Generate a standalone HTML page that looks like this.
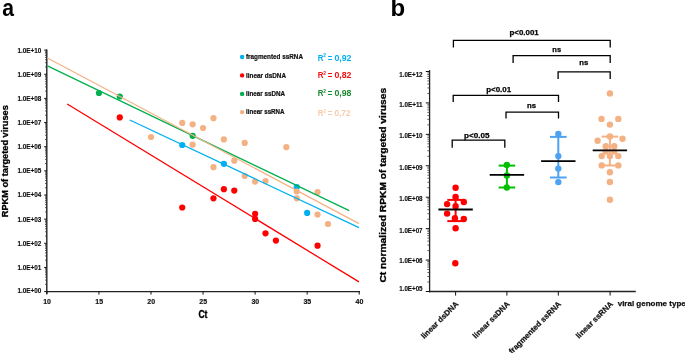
<!DOCTYPE html>
<html><head><meta charset="utf-8"><style>
html,body{margin:0;padding:0;background:#fff;width:685px;height:353px;overflow:hidden}
svg{display:block;will-change:transform}
text{font-family:"Liberation Sans",sans-serif;font-weight:bold}
</style></head><body>
<svg width="685" height="353" viewBox="0 0 685 353">
<rect width="685" height="353" fill="#fff"/>
<text transform="translate(2.3,16) scale(0.88,1)" font-size="24" fill="#000">a</text>
<line x1="46.8" y1="49.5" x2="46.8" y2="293.8" stroke="#222" stroke-width="1.4"/>
<line x1="46.1" y1="291.6" x2="360" y2="291.6" stroke="#222" stroke-width="1.4"/>
<line x1="44.2" y1="291.6" x2="46.8" y2="291.6" stroke="#111" stroke-width="1"/>
<text x="41.2" y="292.79999999999995" font-size="6.6" text-anchor="end" fill="#111" textLength="23.8" lengthAdjust="spacingAndGlyphs" stroke="#111" stroke-width="0.15">1.0E+00</text>
<line x1="45.0" y1="284.33012560471485" x2="46.8" y2="284.33012560471485" stroke="#333" stroke-width="0.8"/>
<line x1="45.0" y1="280.0775216985202" x2="46.8" y2="280.0775216985202" stroke="#333" stroke-width="0.8"/>
<line x1="45.0" y1="277.06025120942974" x2="46.8" y2="277.06025120942974" stroke="#333" stroke-width="0.8"/>
<line x1="45.0" y1="274.71987439528516" x2="46.8" y2="274.71987439528516" stroke="#333" stroke-width="0.8"/>
<line x1="45.0" y1="272.80764730323506" x2="46.8" y2="272.80764730323506" stroke="#333" stroke-width="0.8"/>
<line x1="45.0" y1="271.19088233365574" x2="46.8" y2="271.19088233365574" stroke="#333" stroke-width="0.8"/>
<line x1="45.0" y1="269.79037681414457" x2="46.8" y2="269.79037681414457" stroke="#333" stroke-width="0.8"/>
<line x1="45.0" y1="268.5550433970403" x2="46.8" y2="268.5550433970403" stroke="#333" stroke-width="0.8"/>
<line x1="44.2" y1="267.45000000000005" x2="46.8" y2="267.45000000000005" stroke="#111" stroke-width="1"/>
<text x="41.2" y="269.9" font-size="6.6" text-anchor="end" fill="#111" textLength="23.8" lengthAdjust="spacingAndGlyphs" stroke="#111" stroke-width="0.15">1.0E+01</text>
<line x1="45.0" y1="260.1801256047149" x2="46.8" y2="260.1801256047149" stroke="#333" stroke-width="0.8"/>
<line x1="45.0" y1="255.9275216985202" x2="46.8" y2="255.9275216985202" stroke="#333" stroke-width="0.8"/>
<line x1="45.0" y1="252.91025120942976" x2="46.8" y2="252.91025120942976" stroke="#333" stroke-width="0.8"/>
<line x1="45.0" y1="250.56987439528518" x2="46.8" y2="250.56987439528518" stroke="#333" stroke-width="0.8"/>
<line x1="45.0" y1="248.65764730323505" x2="46.8" y2="248.65764730323505" stroke="#333" stroke-width="0.8"/>
<line x1="45.0" y1="247.04088233365576" x2="46.8" y2="247.04088233365576" stroke="#333" stroke-width="0.8"/>
<line x1="45.0" y1="245.64037681414462" x2="46.8" y2="245.64037681414462" stroke="#333" stroke-width="0.8"/>
<line x1="45.0" y1="244.40504339704034" x2="46.8" y2="244.40504339704034" stroke="#333" stroke-width="0.8"/>
<line x1="44.2" y1="243.3" x2="46.8" y2="243.3" stroke="#111" stroke-width="1"/>
<text x="41.2" y="245.5" font-size="6.6" text-anchor="end" fill="#111" textLength="23.8" lengthAdjust="spacingAndGlyphs" stroke="#111" stroke-width="0.15">1.0E+02</text>
<line x1="45.0" y1="236.03012560471487" x2="46.8" y2="236.03012560471487" stroke="#333" stroke-width="0.8"/>
<line x1="45.0" y1="231.77752169852016" x2="46.8" y2="231.77752169852016" stroke="#333" stroke-width="0.8"/>
<line x1="45.0" y1="228.76025120942973" x2="46.8" y2="228.76025120942973" stroke="#333" stroke-width="0.8"/>
<line x1="45.0" y1="226.41987439528515" x2="46.8" y2="226.41987439528515" stroke="#333" stroke-width="0.8"/>
<line x1="45.0" y1="224.50764730323502" x2="46.8" y2="224.50764730323502" stroke="#333" stroke-width="0.8"/>
<line x1="45.0" y1="222.89088233365572" x2="46.8" y2="222.89088233365572" stroke="#333" stroke-width="0.8"/>
<line x1="45.0" y1="221.49037681414458" x2="46.8" y2="221.49037681414458" stroke="#333" stroke-width="0.8"/>
<line x1="45.0" y1="220.2550433970403" x2="46.8" y2="220.2550433970403" stroke="#333" stroke-width="0.8"/>
<line x1="44.2" y1="219.15000000000003" x2="46.8" y2="219.15000000000003" stroke="#111" stroke-width="1"/>
<text x="41.2" y="222.0" font-size="6.6" text-anchor="end" fill="#111" textLength="23.8" lengthAdjust="spacingAndGlyphs" stroke="#111" stroke-width="0.15">1.0E+03</text>
<line x1="45.0" y1="211.8801256047149" x2="46.8" y2="211.8801256047149" stroke="#333" stroke-width="0.8"/>
<line x1="45.0" y1="207.62752169852018" x2="46.8" y2="207.62752169852018" stroke="#333" stroke-width="0.8"/>
<line x1="45.0" y1="204.61025120942975" x2="46.8" y2="204.61025120942975" stroke="#333" stroke-width="0.8"/>
<line x1="45.0" y1="202.26987439528517" x2="46.8" y2="202.26987439528517" stroke="#333" stroke-width="0.8"/>
<line x1="45.0" y1="200.35764730323504" x2="46.8" y2="200.35764730323504" stroke="#333" stroke-width="0.8"/>
<line x1="45.0" y1="198.74088233365575" x2="46.8" y2="198.74088233365575" stroke="#333" stroke-width="0.8"/>
<line x1="45.0" y1="197.3403768141446" x2="46.8" y2="197.3403768141446" stroke="#333" stroke-width="0.8"/>
<line x1="45.0" y1="196.10504339704033" x2="46.8" y2="196.10504339704033" stroke="#333" stroke-width="0.8"/>
<line x1="44.2" y1="195.00000000000003" x2="46.8" y2="195.00000000000003" stroke="#111" stroke-width="1"/>
<text x="41.2" y="197.1" font-size="6.6" text-anchor="end" fill="#111" textLength="23.8" lengthAdjust="spacingAndGlyphs" stroke="#111" stroke-width="0.15">1.0E+04</text>
<line x1="45.0" y1="187.73012560471489" x2="46.8" y2="187.73012560471489" stroke="#333" stroke-width="0.8"/>
<line x1="45.0" y1="183.47752169852018" x2="46.8" y2="183.47752169852018" stroke="#333" stroke-width="0.8"/>
<line x1="45.0" y1="180.46025120942974" x2="46.8" y2="180.46025120942974" stroke="#333" stroke-width="0.8"/>
<line x1="45.0" y1="178.11987439528517" x2="46.8" y2="178.11987439528517" stroke="#333" stroke-width="0.8"/>
<line x1="45.0" y1="176.20764730323503" x2="46.8" y2="176.20764730323503" stroke="#333" stroke-width="0.8"/>
<line x1="45.0" y1="174.5908823336557" x2="46.8" y2="174.5908823336557" stroke="#333" stroke-width="0.8"/>
<line x1="45.0" y1="173.1903768141446" x2="46.8" y2="173.1903768141446" stroke="#333" stroke-width="0.8"/>
<line x1="45.0" y1="171.95504339704033" x2="46.8" y2="171.95504339704033" stroke="#333" stroke-width="0.8"/>
<line x1="44.2" y1="170.85000000000002" x2="46.8" y2="170.85000000000002" stroke="#111" stroke-width="1"/>
<text x="41.2" y="173.4" font-size="6.6" text-anchor="end" fill="#111" textLength="23.8" lengthAdjust="spacingAndGlyphs" stroke="#111" stroke-width="0.15">1.0E+05</text>
<line x1="45.0" y1="163.58012560471488" x2="46.8" y2="163.58012560471488" stroke="#333" stroke-width="0.8"/>
<line x1="45.0" y1="159.32752169852017" x2="46.8" y2="159.32752169852017" stroke="#333" stroke-width="0.8"/>
<line x1="45.0" y1="156.31025120942974" x2="46.8" y2="156.31025120942974" stroke="#333" stroke-width="0.8"/>
<line x1="45.0" y1="153.96987439528516" x2="46.8" y2="153.96987439528516" stroke="#333" stroke-width="0.8"/>
<line x1="45.0" y1="152.05764730323503" x2="46.8" y2="152.05764730323503" stroke="#333" stroke-width="0.8"/>
<line x1="45.0" y1="150.44088233365574" x2="46.8" y2="150.44088233365574" stroke="#333" stroke-width="0.8"/>
<line x1="45.0" y1="149.0403768141446" x2="46.8" y2="149.0403768141446" stroke="#333" stroke-width="0.8"/>
<line x1="45.0" y1="147.80504339704032" x2="46.8" y2="147.80504339704032" stroke="#333" stroke-width="0.8"/>
<line x1="44.2" y1="146.70000000000005" x2="46.8" y2="146.70000000000005" stroke="#111" stroke-width="1"/>
<text x="41.2" y="148.70000000000002" font-size="6.6" text-anchor="end" fill="#111" textLength="23.8" lengthAdjust="spacingAndGlyphs" stroke="#111" stroke-width="0.15">1.0E+06</text>
<line x1="45.0" y1="139.4301256047149" x2="46.8" y2="139.4301256047149" stroke="#333" stroke-width="0.8"/>
<line x1="45.0" y1="135.1775216985202" x2="46.8" y2="135.1775216985202" stroke="#333" stroke-width="0.8"/>
<line x1="45.0" y1="132.16025120942976" x2="46.8" y2="132.16025120942976" stroke="#333" stroke-width="0.8"/>
<line x1="45.0" y1="129.81987439528518" x2="46.8" y2="129.81987439528518" stroke="#333" stroke-width="0.8"/>
<line x1="45.0" y1="127.90764730323505" x2="46.8" y2="127.90764730323505" stroke="#333" stroke-width="0.8"/>
<line x1="45.0" y1="126.29088233365574" x2="46.8" y2="126.29088233365574" stroke="#333" stroke-width="0.8"/>
<line x1="45.0" y1="124.89037681414462" x2="46.8" y2="124.89037681414462" stroke="#333" stroke-width="0.8"/>
<line x1="45.0" y1="123.65504339704034" x2="46.8" y2="123.65504339704034" stroke="#333" stroke-width="0.8"/>
<line x1="44.2" y1="122.55000000000004" x2="46.8" y2="122.55000000000004" stroke="#111" stroke-width="1"/>
<text x="41.2" y="124.7" font-size="6.6" text-anchor="end" fill="#111" textLength="23.8" lengthAdjust="spacingAndGlyphs" stroke="#111" stroke-width="0.15">1.0E+07</text>
<line x1="45.0" y1="115.2801256047149" x2="46.8" y2="115.2801256047149" stroke="#333" stroke-width="0.8"/>
<line x1="45.0" y1="111.02752169852019" x2="46.8" y2="111.02752169852019" stroke="#333" stroke-width="0.8"/>
<line x1="45.0" y1="108.01025120942975" x2="46.8" y2="108.01025120942975" stroke="#333" stroke-width="0.8"/>
<line x1="45.0" y1="105.66987439528518" x2="46.8" y2="105.66987439528518" stroke="#333" stroke-width="0.8"/>
<line x1="45.0" y1="103.75764730323505" x2="46.8" y2="103.75764730323505" stroke="#333" stroke-width="0.8"/>
<line x1="45.0" y1="102.14088233365574" x2="46.8" y2="102.14088233365574" stroke="#333" stroke-width="0.8"/>
<line x1="45.0" y1="100.74037681414461" x2="46.8" y2="100.74037681414461" stroke="#333" stroke-width="0.8"/>
<line x1="45.0" y1="99.50504339704034" x2="46.8" y2="99.50504339704034" stroke="#333" stroke-width="0.8"/>
<line x1="44.2" y1="98.40000000000003" x2="46.8" y2="98.40000000000003" stroke="#111" stroke-width="1"/>
<text x="41.2" y="100.60000000000001" font-size="6.6" text-anchor="end" fill="#111" textLength="23.8" lengthAdjust="spacingAndGlyphs" stroke="#111" stroke-width="0.15">1.0E+08</text>
<line x1="45.0" y1="91.13012560471489" x2="46.8" y2="91.13012560471489" stroke="#333" stroke-width="0.8"/>
<line x1="45.0" y1="86.87752169852018" x2="46.8" y2="86.87752169852018" stroke="#333" stroke-width="0.8"/>
<line x1="45.0" y1="83.86025120942975" x2="46.8" y2="83.86025120942975" stroke="#333" stroke-width="0.8"/>
<line x1="45.0" y1="81.51987439528517" x2="46.8" y2="81.51987439528517" stroke="#333" stroke-width="0.8"/>
<line x1="45.0" y1="79.60764730323504" x2="46.8" y2="79.60764730323504" stroke="#333" stroke-width="0.8"/>
<line x1="45.0" y1="77.99088233365573" x2="46.8" y2="77.99088233365573" stroke="#333" stroke-width="0.8"/>
<line x1="45.0" y1="76.5903768141446" x2="46.8" y2="76.5903768141446" stroke="#333" stroke-width="0.8"/>
<line x1="45.0" y1="75.35504339704033" x2="46.8" y2="75.35504339704033" stroke="#333" stroke-width="0.8"/>
<line x1="44.2" y1="74.25000000000003" x2="46.8" y2="74.25000000000003" stroke="#111" stroke-width="1"/>
<text x="41.2" y="76.5" font-size="6.6" text-anchor="end" fill="#111" textLength="23.8" lengthAdjust="spacingAndGlyphs" stroke="#111" stroke-width="0.15">1.0E+09</text>
<line x1="45.0" y1="66.98012560471489" x2="46.8" y2="66.98012560471489" stroke="#333" stroke-width="0.8"/>
<line x1="45.0" y1="62.72752169852018" x2="46.8" y2="62.72752169852018" stroke="#333" stroke-width="0.8"/>
<line x1="45.0" y1="59.710251209429735" x2="46.8" y2="59.710251209429735" stroke="#333" stroke-width="0.8"/>
<line x1="45.0" y1="57.36987439528517" x2="46.8" y2="57.36987439528517" stroke="#333" stroke-width="0.8"/>
<line x1="45.0" y1="55.457647303235035" x2="46.8" y2="55.457647303235035" stroke="#333" stroke-width="0.8"/>
<line x1="45.0" y1="53.84088233365573" x2="46.8" y2="53.84088233365573" stroke="#333" stroke-width="0.8"/>
<line x1="45.0" y1="52.44037681414459" x2="46.8" y2="52.44037681414459" stroke="#333" stroke-width="0.8"/>
<line x1="45.0" y1="51.205043397040335" x2="46.8" y2="51.205043397040335" stroke="#333" stroke-width="0.8"/>
<line x1="44.2" y1="50.10000000000002" x2="46.8" y2="50.10000000000002" stroke="#111" stroke-width="1"/>
<text x="41.2" y="52.6" font-size="6.6" text-anchor="end" fill="#111" textLength="23.8" lengthAdjust="spacingAndGlyphs" stroke="#111" stroke-width="0.15">1.0E+10</text>
<line x1="46.9" y1="291.6" x2="46.9" y2="294.6" stroke="#111" stroke-width="1"/>
<text x="47.1" y="303.8" font-size="6.6" text-anchor="middle" fill="#111" textLength="7.8" lengthAdjust="spacingAndGlyphs" stroke="#111" stroke-width="0.15">10</text>
<line x1="98.94999999999999" y1="291.6" x2="98.94999999999999" y2="294.6" stroke="#111" stroke-width="1"/>
<text x="99.14999999999999" y="303.8" font-size="6.6" text-anchor="middle" fill="#111" textLength="7.8" lengthAdjust="spacingAndGlyphs" stroke="#111" stroke-width="0.15">15</text>
<line x1="151.0" y1="291.6" x2="151.0" y2="294.6" stroke="#111" stroke-width="1"/>
<text x="151.2" y="303.8" font-size="6.6" text-anchor="middle" fill="#111" textLength="7.8" lengthAdjust="spacingAndGlyphs" stroke="#111" stroke-width="0.15">20</text>
<line x1="203.05" y1="291.6" x2="203.05" y2="294.6" stroke="#111" stroke-width="1"/>
<text x="203.25" y="303.8" font-size="6.6" text-anchor="middle" fill="#111" textLength="7.8" lengthAdjust="spacingAndGlyphs" stroke="#111" stroke-width="0.15">25</text>
<line x1="255.1" y1="291.6" x2="255.1" y2="294.6" stroke="#111" stroke-width="1"/>
<text x="255.29999999999998" y="303.8" font-size="6.6" text-anchor="middle" fill="#111" textLength="7.8" lengthAdjust="spacingAndGlyphs" stroke="#111" stroke-width="0.15">30</text>
<line x1="307.15" y1="291.6" x2="307.15" y2="294.6" stroke="#111" stroke-width="1"/>
<text x="307.34999999999997" y="303.8" font-size="6.6" text-anchor="middle" fill="#111" textLength="7.8" lengthAdjust="spacingAndGlyphs" stroke="#111" stroke-width="0.15">35</text>
<line x1="359.2" y1="291.6" x2="359.2" y2="294.6" stroke="#111" stroke-width="1"/>
<text x="359.4" y="303.8" font-size="6.6" text-anchor="middle" fill="#111" textLength="7.8" lengthAdjust="spacingAndGlyphs" stroke="#111" stroke-width="0.15">40</text>
<text x="202.9" y="317.5" font-size="10" text-anchor="middle" fill="#000" textLength="9" lengthAdjust="spacingAndGlyphs" stroke="#000" stroke-width="0.35">Ct</text>
<text transform="translate(7.8,161.2) rotate(-90)" x="0" y="0" font-size="9.6" text-anchor="middle" fill="#000" stroke="#000" stroke-width="0.3" textLength="112" lengthAdjust="spacingAndGlyphs">RPKM of targeted viruses</text>
<circle cx="182.23000000000002" cy="145" r="3.1" fill="#00B0F0"/>
<circle cx="223.87" cy="163.8" r="3.1" fill="#00B0F0"/>
<circle cx="296.74" cy="187.2" r="3.1" fill="#00B0F0"/>
<circle cx="307.15" cy="212.9" r="3.1" fill="#00B0F0"/>
<circle cx="119.77000000000001" cy="117.4" r="3.1" fill="#FF0000"/>
<circle cx="182.23000000000002" cy="207.5" r="3.1" fill="#FF0000"/>
<circle cx="213.46" cy="198.3" r="3.1" fill="#FF0000"/>
<circle cx="223.87" cy="189.2" r="3.1" fill="#FF0000"/>
<circle cx="234.28" cy="190.6" r="3.1" fill="#FF0000"/>
<circle cx="255.1" cy="213.8" r="3.1" fill="#FF0000"/>
<circle cx="255.1" cy="218.9" r="3.1" fill="#FF0000"/>
<circle cx="265.51" cy="233.3" r="3.1" fill="#FF0000"/>
<circle cx="275.92" cy="240.6" r="3.1" fill="#FF0000"/>
<circle cx="317.56" cy="245.7" r="3.1" fill="#FF0000"/>
<circle cx="98.94999999999999" cy="93" r="3.1" fill="#00B050"/>
<circle cx="119.77000000000001" cy="96.5" r="3.1" fill="#00B050"/>
<circle cx="192.64000000000001" cy="135.8" r="3.1" fill="#00B050"/>
<circle cx="151.0" cy="137" r="3.1" fill="#F4B183"/>
<circle cx="182.23000000000002" cy="122.9" r="3.1" fill="#F4B183"/>
<circle cx="192.64000000000001" cy="124.3" r="3.1" fill="#F4B183"/>
<circle cx="203.05" cy="128" r="3.1" fill="#F4B183"/>
<circle cx="192.64000000000001" cy="144.7" r="3.1" fill="#F4B183"/>
<circle cx="213.46" cy="118.2" r="3.1" fill="#F4B183"/>
<circle cx="213.46" cy="167.2" r="3.1" fill="#F4B183"/>
<circle cx="223.87" cy="139.4" r="3.1" fill="#F4B183"/>
<circle cx="234.28" cy="160.7" r="3.1" fill="#F4B183"/>
<circle cx="244.69" cy="142.9" r="3.1" fill="#F4B183"/>
<circle cx="244.69" cy="176" r="3.1" fill="#F4B183"/>
<circle cx="255.1" cy="181.6" r="3.1" fill="#F4B183"/>
<circle cx="265.51" cy="181.1" r="3.1" fill="#F4B183"/>
<circle cx="286.33" cy="147.2" r="3.1" fill="#F4B183"/>
<circle cx="296.74" cy="191.5" r="3.1" fill="#F4B183"/>
<circle cx="296.74" cy="198.3" r="3.1" fill="#F4B183"/>
<circle cx="317.56" cy="192.1" r="3.1" fill="#F4B183"/>
<circle cx="317.56" cy="214.6" r="3.1" fill="#F4B183"/>
<circle cx="327.96999999999997" cy="224" r="3.1" fill="#F4B183"/>
<line x1="67.2" y1="104" x2="359" y2="281.9" stroke="#FF0000" stroke-width="1.3"/>
<line x1="129.7" y1="120" x2="359" y2="227.7" stroke="#00B0F0" stroke-width="1.3"/>
<line x1="47.4" y1="65.8" x2="349.2" y2="210.7" stroke="#00B050" stroke-width="1.3"/>
<line x1="47.4" y1="58" x2="359" y2="223.6" stroke="#F4B183" stroke-width="1.2"/>
<circle cx="242.1" cy="57" r="2.2" fill="#00B0F0"/>
<text x="246" y="58.7" font-size="6.3" text-anchor="start" fill="#111" textLength="57" lengthAdjust="spacingAndGlyphs" stroke="#111" stroke-width="0.2">fragmented ssRNA</text>
<circle cx="242.1" cy="75.4" r="2.2" fill="#FF0000"/>
<text x="246" y="77.6" font-size="6.3" text-anchor="start" fill="#111" textLength="40" lengthAdjust="spacingAndGlyphs" stroke="#111" stroke-width="0.2">linear dsDNA</text>
<circle cx="242.1" cy="93.9" r="2.2" fill="#00B050"/>
<text x="246" y="96" font-size="6.3" text-anchor="start" fill="#111" textLength="39" lengthAdjust="spacingAndGlyphs" stroke="#111" stroke-width="0.2">linear ssDNA</text>
<circle cx="242.1" cy="112.1" r="2.2" fill="#F4B183"/>
<text x="246" y="114.1" font-size="6.3" text-anchor="start" fill="#111" textLength="38.5" lengthAdjust="spacingAndGlyphs" stroke="#111" stroke-width="0.2">linear ssRNA</text>
<text x="317.7" y="60.8" font-size="8.4" text-anchor="start" fill="#00B0F0" textLength="5.7" lengthAdjust="spacingAndGlyphs" >R</text>
<text x="323.3" y="57.4" font-size="4.9" text-anchor="start" fill="#00B0F0" >2</text>
<text x="330.0" y="60.8" font-size="8.4" text-anchor="middle" fill="#00B0F0" textLength="4.6" lengthAdjust="spacingAndGlyphs" >=</text>
<text x="334.4" y="60.8" font-size="8.4" text-anchor="start" fill="#00B0F0" textLength="17.1" lengthAdjust="spacingAndGlyphs" >0,92</text>
<text x="317.7" y="77.9" font-size="8.4" text-anchor="start" fill="#EE1111" textLength="5.7" lengthAdjust="spacingAndGlyphs" >R</text>
<text x="323.3" y="74.5" font-size="4.9" text-anchor="start" fill="#EE1111" >2</text>
<text x="330.0" y="77.9" font-size="8.4" text-anchor="middle" fill="#EE1111" textLength="4.6" lengthAdjust="spacingAndGlyphs" >=</text>
<text x="334.4" y="77.9" font-size="8.4" text-anchor="start" fill="#EE1111" textLength="17.1" lengthAdjust="spacingAndGlyphs" >0,82</text>
<text x="317.7" y="96.4" font-size="8.4" text-anchor="start" fill="#1A8A32" textLength="5.7" lengthAdjust="spacingAndGlyphs" >R</text>
<text x="323.3" y="93.0" font-size="4.9" text-anchor="start" fill="#1A8A32" >2</text>
<text x="330.0" y="96.4" font-size="8.4" text-anchor="middle" fill="#1A8A32" textLength="4.6" lengthAdjust="spacingAndGlyphs" >=</text>
<text x="334.4" y="96.4" font-size="8.4" text-anchor="start" fill="#1A8A32" textLength="17.1" lengthAdjust="spacingAndGlyphs" >0,98</text>
<text x="317.7" y="116.1" font-size="8.4" text-anchor="start" fill="#F8CBAD" textLength="5.7" lengthAdjust="spacingAndGlyphs" >R</text>
<text x="323.3" y="112.69999999999999" font-size="4.9" text-anchor="start" fill="#F8CBAD" >2</text>
<text x="330.0" y="116.1" font-size="8.4" text-anchor="middle" fill="#F8CBAD" textLength="4.6" lengthAdjust="spacingAndGlyphs" >=</text>
<text x="334.4" y="116.1" font-size="8.4" text-anchor="start" fill="#F8CBAD" textLength="16.1" lengthAdjust="spacingAndGlyphs" >0,72</text>
<text x="390.6" y="15.5" font-size="24" text-anchor="start" fill="#000" >b</text>
<line x1="429.6" y1="70.1" x2="429.6" y2="292.2" stroke="#222" stroke-width="1.3"/>
<line x1="429.0" y1="291.5" x2="635.8" y2="291.5" stroke="#222" stroke-width="1.3"/>
<line x1="425.8" y1="291.5" x2="429.6" y2="291.5" stroke="#111" stroke-width="1"/>
<text x="422.6" y="291.29999999999995" font-size="6.6" text-anchor="end" fill="#111" textLength="23.4" lengthAdjust="spacingAndGlyphs" stroke="#111" stroke-width="0.15">1.0E+05</text>
<line x1="427.4" y1="282.03862723628106" x2="429.6" y2="282.03862723628106" stroke="#333" stroke-width="0.8"/>
<line x1="427.4" y1="276.504078964161" x2="429.6" y2="276.504078964161" stroke="#333" stroke-width="0.8"/>
<line x1="427.4" y1="272.5772544725621" x2="429.6" y2="272.5772544725621" stroke="#333" stroke-width="0.8"/>
<line x1="427.4" y1="269.53137276371893" x2="429.6" y2="269.53137276371893" stroke="#333" stroke-width="0.8"/>
<line x1="427.4" y1="267.04270620044207" x2="429.6" y2="267.04270620044207" stroke="#333" stroke-width="0.8"/>
<line x1="427.4" y1="264.9385686023519" x2="429.6" y2="264.9385686023519" stroke="#333" stroke-width="0.8"/>
<line x1="427.4" y1="263.11588170884323" x2="429.6" y2="263.11588170884323" stroke="#333" stroke-width="0.8"/>
<line x1="427.4" y1="261.508157928322" x2="429.6" y2="261.508157928322" stroke="#333" stroke-width="0.8"/>
<line x1="425.8" y1="260.07" x2="429.6" y2="260.07" stroke="#111" stroke-width="1"/>
<text x="422.6" y="263.29999999999995" font-size="6.6" text-anchor="end" fill="#111" textLength="23.4" lengthAdjust="spacingAndGlyphs" stroke="#111" stroke-width="0.15">1.0E+06</text>
<line x1="427.4" y1="250.60862723628105" x2="429.6" y2="250.60862723628105" stroke="#333" stroke-width="0.8"/>
<line x1="427.4" y1="245.074078964161" x2="429.6" y2="245.074078964161" stroke="#333" stroke-width="0.8"/>
<line x1="427.4" y1="241.14725447256214" x2="429.6" y2="241.14725447256214" stroke="#333" stroke-width="0.8"/>
<line x1="427.4" y1="238.10137276371893" x2="429.6" y2="238.10137276371893" stroke="#333" stroke-width="0.8"/>
<line x1="427.4" y1="235.61270620044206" x2="429.6" y2="235.61270620044206" stroke="#333" stroke-width="0.8"/>
<line x1="427.4" y1="233.5085686023519" x2="429.6" y2="233.5085686023519" stroke="#333" stroke-width="0.8"/>
<line x1="427.4" y1="231.6858817088432" x2="429.6" y2="231.6858817088432" stroke="#333" stroke-width="0.8"/>
<line x1="427.4" y1="230.078157928322" x2="429.6" y2="230.078157928322" stroke="#333" stroke-width="0.8"/>
<line x1="425.8" y1="228.64" x2="429.6" y2="228.64" stroke="#111" stroke-width="1"/>
<text x="422.6" y="233.3" font-size="6.6" text-anchor="end" fill="#111" textLength="23.4" lengthAdjust="spacingAndGlyphs" stroke="#111" stroke-width="0.15">1.0E+07</text>
<line x1="427.4" y1="219.17862723628105" x2="429.6" y2="219.17862723628105" stroke="#333" stroke-width="0.8"/>
<line x1="427.4" y1="213.644078964161" x2="429.6" y2="213.644078964161" stroke="#333" stroke-width="0.8"/>
<line x1="427.4" y1="209.71725447256213" x2="429.6" y2="209.71725447256213" stroke="#333" stroke-width="0.8"/>
<line x1="427.4" y1="206.67137276371892" x2="429.6" y2="206.67137276371892" stroke="#333" stroke-width="0.8"/>
<line x1="427.4" y1="204.18270620044206" x2="429.6" y2="204.18270620044206" stroke="#333" stroke-width="0.8"/>
<line x1="427.4" y1="202.07856860235188" x2="429.6" y2="202.07856860235188" stroke="#333" stroke-width="0.8"/>
<line x1="427.4" y1="200.2558817088432" x2="429.6" y2="200.2558817088432" stroke="#333" stroke-width="0.8"/>
<line x1="427.4" y1="198.648157928322" x2="429.6" y2="198.648157928322" stroke="#333" stroke-width="0.8"/>
<line x1="425.8" y1="197.21" x2="429.6" y2="197.21" stroke="#111" stroke-width="1"/>
<text x="422.6" y="201.0" font-size="6.6" text-anchor="end" fill="#111" textLength="23.4" lengthAdjust="spacingAndGlyphs" stroke="#111" stroke-width="0.15">1.0E+08</text>
<line x1="427.4" y1="187.74862723628107" x2="429.6" y2="187.74862723628107" stroke="#333" stroke-width="0.8"/>
<line x1="427.4" y1="182.21407896416102" x2="429.6" y2="182.21407896416102" stroke="#333" stroke-width="0.8"/>
<line x1="427.4" y1="178.28725447256215" x2="429.6" y2="178.28725447256215" stroke="#333" stroke-width="0.8"/>
<line x1="427.4" y1="175.24137276371894" x2="429.6" y2="175.24137276371894" stroke="#333" stroke-width="0.8"/>
<line x1="427.4" y1="172.75270620044208" x2="429.6" y2="172.75270620044208" stroke="#333" stroke-width="0.8"/>
<line x1="427.4" y1="170.64856860235193" x2="429.6" y2="170.64856860235193" stroke="#333" stroke-width="0.8"/>
<line x1="427.4" y1="168.8258817088432" x2="429.6" y2="168.8258817088432" stroke="#333" stroke-width="0.8"/>
<line x1="427.4" y1="167.21815792832203" x2="429.6" y2="167.21815792832203" stroke="#333" stroke-width="0.8"/>
<line x1="425.8" y1="165.78" x2="429.6" y2="165.78" stroke="#111" stroke-width="1"/>
<text x="422.6" y="170.1" font-size="6.6" text-anchor="end" fill="#111" textLength="23.4" lengthAdjust="spacingAndGlyphs" stroke="#111" stroke-width="0.15">1.0E+09</text>
<line x1="427.4" y1="156.31862723628106" x2="429.6" y2="156.31862723628106" stroke="#333" stroke-width="0.8"/>
<line x1="427.4" y1="150.784078964161" x2="429.6" y2="150.784078964161" stroke="#333" stroke-width="0.8"/>
<line x1="427.4" y1="146.85725447256215" x2="429.6" y2="146.85725447256215" stroke="#333" stroke-width="0.8"/>
<line x1="427.4" y1="143.81137276371894" x2="429.6" y2="143.81137276371894" stroke="#333" stroke-width="0.8"/>
<line x1="427.4" y1="141.32270620044207" x2="429.6" y2="141.32270620044207" stroke="#333" stroke-width="0.8"/>
<line x1="427.4" y1="139.21856860235192" x2="429.6" y2="139.21856860235192" stroke="#333" stroke-width="0.8"/>
<line x1="427.4" y1="137.3958817088432" x2="429.6" y2="137.3958817088432" stroke="#333" stroke-width="0.8"/>
<line x1="427.4" y1="135.78815792832202" x2="429.6" y2="135.78815792832202" stroke="#333" stroke-width="0.8"/>
<line x1="425.8" y1="134.35" x2="429.6" y2="134.35" stroke="#111" stroke-width="1"/>
<text x="422.6" y="137.9" font-size="6.6" text-anchor="end" fill="#111" textLength="23.4" lengthAdjust="spacingAndGlyphs" stroke="#111" stroke-width="0.15">1.0E+10</text>
<line x1="427.4" y1="124.88862723628107" x2="429.6" y2="124.88862723628107" stroke="#333" stroke-width="0.8"/>
<line x1="427.4" y1="119.354078964161" x2="429.6" y2="119.354078964161" stroke="#333" stroke-width="0.8"/>
<line x1="427.4" y1="115.42725447256214" x2="429.6" y2="115.42725447256214" stroke="#333" stroke-width="0.8"/>
<line x1="427.4" y1="112.38137276371893" x2="429.6" y2="112.38137276371893" stroke="#333" stroke-width="0.8"/>
<line x1="427.4" y1="109.89270620044208" x2="429.6" y2="109.89270620044208" stroke="#333" stroke-width="0.8"/>
<line x1="427.4" y1="107.7885686023519" x2="429.6" y2="107.7885686023519" stroke="#333" stroke-width="0.8"/>
<line x1="427.4" y1="105.96588170884321" x2="429.6" y2="105.96588170884321" stroke="#333" stroke-width="0.8"/>
<line x1="427.4" y1="104.35815792832202" x2="429.6" y2="104.35815792832202" stroke="#333" stroke-width="0.8"/>
<line x1="425.8" y1="102.92000000000002" x2="429.6" y2="102.92000000000002" stroke="#111" stroke-width="1"/>
<text x="422.6" y="107.2" font-size="6.6" text-anchor="end" fill="#111" textLength="23.4" lengthAdjust="spacingAndGlyphs" stroke="#111" stroke-width="0.15">1.0E+11</text>
<line x1="427.4" y1="93.45862723628109" x2="429.6" y2="93.45862723628109" stroke="#333" stroke-width="0.8"/>
<line x1="427.4" y1="87.92407896416103" x2="429.6" y2="87.92407896416103" stroke="#333" stroke-width="0.8"/>
<line x1="427.4" y1="83.99725447256216" x2="429.6" y2="83.99725447256216" stroke="#333" stroke-width="0.8"/>
<line x1="427.4" y1="80.95137276371895" x2="429.6" y2="80.95137276371895" stroke="#333" stroke-width="0.8"/>
<line x1="427.4" y1="78.4627062004421" x2="429.6" y2="78.4627062004421" stroke="#333" stroke-width="0.8"/>
<line x1="427.4" y1="76.35856860235192" x2="429.6" y2="76.35856860235192" stroke="#333" stroke-width="0.8"/>
<line x1="427.4" y1="74.53588170884323" x2="429.6" y2="74.53588170884323" stroke="#333" stroke-width="0.8"/>
<line x1="427.4" y1="72.92815792832204" x2="429.6" y2="72.92815792832204" stroke="#333" stroke-width="0.8"/>
<line x1="425.8" y1="71.49000000000001" x2="429.6" y2="71.49000000000001" stroke="#111" stroke-width="1"/>
<text x="422.6" y="76.5" font-size="6.6" text-anchor="end" fill="#111" textLength="23.4" lengthAdjust="spacingAndGlyphs" stroke="#111" stroke-width="0.15">1.0E+12</text>
<line x1="455.6" y1="291.5" x2="455.6" y2="295.6" stroke="#111" stroke-width="1"/>
<line x1="506.9" y1="291.5" x2="506.9" y2="295.6" stroke="#111" stroke-width="1"/>
<line x1="558.3" y1="291.5" x2="558.3" y2="295.6" stroke="#111" stroke-width="1"/>
<line x1="610.1" y1="291.5" x2="610.1" y2="295.6" stroke="#111" stroke-width="1"/>
<text transform="translate(386.2,185.2) rotate(-90)" x="0" y="0" font-size="8.3" text-anchor="middle" fill="#000" stroke="#000" stroke-width="0.3" textLength="194.7" lengthAdjust="spacingAndGlyphs">Ct normalized RPKM of targeted viruses</text>
<text transform="translate(458.90000000000003,304.6) rotate(-45)" x="0" y="0" font-size="7.8" text-anchor="end" fill="#111" stroke="#111" stroke-width="0.25">linear dsDNA</text>
<text transform="translate(510.2,304.6) rotate(-45)" x="0" y="0" font-size="7.8" text-anchor="end" fill="#111" stroke="#111" stroke-width="0.25">linear ssDNA</text>
<text transform="translate(561.5999999999999,304.6) rotate(-45)" x="0" y="0" font-size="7.8" text-anchor="end" fill="#111" stroke="#111" stroke-width="0.25">fragmented ssRNA</text>
<text transform="translate(613.4,304.6) rotate(-45)" x="0" y="0" font-size="7.8" text-anchor="end" fill="#111" stroke="#111" stroke-width="0.25">linear ssRNA</text>
<text x="617.7" y="305.6" font-size="8" text-anchor="start" fill="#111" stroke="#111" stroke-width="0.25">viral genome type</text>
<circle cx="455.6" cy="187.8" r="3.2" fill="#FF0000"/>
<circle cx="455.6" cy="197" r="3.2" fill="#FF0000"/>
<circle cx="447.1" cy="204.1" r="3.2" fill="#FF0000"/>
<circle cx="463.8" cy="202" r="3.2" fill="#FF0000"/>
<circle cx="455.6" cy="206.2" r="3.2" fill="#FF0000"/>
<circle cx="447.1" cy="213.6" r="3.2" fill="#FF0000"/>
<circle cx="454.90000000000003" cy="218.3" r="3.2" fill="#FF0000"/>
<circle cx="463.8" cy="219" r="3.2" fill="#FF0000"/>
<circle cx="455.6" cy="228.2" r="3.2" fill="#FF0000"/>
<circle cx="455.3" cy="263.2" r="3.2" fill="#FF0000"/>
<line x1="455.6" y1="199.9" x2="455.6" y2="221.1" stroke="#FF0000" stroke-width="2"/>
<line x1="447.3" y1="199.9" x2="463.90000000000003" y2="199.9" stroke="#FF0000" stroke-width="2"/>
<line x1="447.3" y1="221.1" x2="463.90000000000003" y2="221.1" stroke="#FF0000" stroke-width="2"/>
<line x1="438.40000000000003" y1="209.5" x2="472.8" y2="209.5" stroke="#000" stroke-width="1.8"/>
<circle cx="506.9" cy="164.9" r="3.2" fill="#00C000"/>
<circle cx="506.9" cy="175.4" r="3.2" fill="#00C000"/>
<circle cx="506.9" cy="187.5" r="3.2" fill="#00C000"/>
<line x1="506.9" y1="165.6" x2="506.9" y2="187.5" stroke="#00C000" stroke-width="2"/>
<line x1="498.59999999999997" y1="165.6" x2="515.1999999999999" y2="165.6" stroke="#00C000" stroke-width="2"/>
<line x1="498.59999999999997" y1="187.5" x2="515.1999999999999" y2="187.5" stroke="#00C000" stroke-width="2"/>
<line x1="489.7" y1="174.8" x2="524.1" y2="174.8" stroke="#000" stroke-width="1.8"/>
<circle cx="558.3" cy="133.9" r="3.2" fill="#4DA3F2"/>
<circle cx="558.3" cy="156.1" r="3.2" fill="#4DA3F2"/>
<circle cx="558.3" cy="168.6" r="3.2" fill="#4DA3F2"/>
<circle cx="558.3" cy="182.1" r="3.2" fill="#4DA3F2"/>
<line x1="558.3" y1="136.9" x2="558.3" y2="177.5" stroke="#4DA3F2" stroke-width="2"/>
<line x1="550.0" y1="136.9" x2="566.5999999999999" y2="136.9" stroke="#4DA3F2" stroke-width="2"/>
<line x1="550.0" y1="177.5" x2="566.5999999999999" y2="177.5" stroke="#4DA3F2" stroke-width="2"/>
<line x1="541.0999999999999" y1="161.1" x2="575.5" y2="161.1" stroke="#000" stroke-width="1.8"/>
<circle cx="609.9" cy="93.4" r="3.2" fill="#F4B183"/>
<circle cx="601.5" cy="118.9" r="3.2" fill="#F4B183"/>
<circle cx="618.3" cy="118.9" r="3.2" fill="#F4B183"/>
<circle cx="609.9" cy="124.6" r="3.2" fill="#F4B183"/>
<circle cx="609.9" cy="136.4" r="3.2" fill="#F4B183"/>
<circle cx="597.6" cy="140.8" r="3.2" fill="#F4B183"/>
<circle cx="622.5" cy="138.7" r="3.2" fill="#F4B183"/>
<circle cx="605.6999999999999" cy="146.3" r="3.2" fill="#F4B183"/>
<circle cx="614.1999999999999" cy="146.3" r="3.2" fill="#F4B183"/>
<circle cx="605.6999999999999" cy="151.5" r="3.2" fill="#F4B183"/>
<circle cx="614.1999999999999" cy="151.5" r="3.2" fill="#F4B183"/>
<circle cx="601.6999999999999" cy="156.1" r="3.2" fill="#F4B183"/>
<circle cx="609.9" cy="156.1" r="3.2" fill="#F4B183"/>
<circle cx="618.3" cy="156.1" r="3.2" fill="#F4B183"/>
<circle cx="601.6999999999999" cy="165.4" r="3.2" fill="#F4B183"/>
<circle cx="618.3" cy="165.4" r="3.2" fill="#F4B183"/>
<circle cx="609.9" cy="172.2" r="3.2" fill="#F4B183"/>
<circle cx="609.9" cy="182" r="3.2" fill="#F4B183"/>
<circle cx="609.9" cy="199.7" r="3.2" fill="#F4B183"/>
<line x1="609.9" y1="136.6" x2="609.9" y2="165.5" stroke="#F4B183" stroke-width="2"/>
<line x1="601.6" y1="136.6" x2="618.1999999999999" y2="136.6" stroke="#F4B183" stroke-width="2"/>
<line x1="601.6" y1="165.5" x2="618.1999999999999" y2="165.5" stroke="#F4B183" stroke-width="2"/>
<line x1="592.6999999999999" y1="150.4" x2="627.1" y2="150.4" stroke="#000" stroke-width="1.8"/>
<polyline points="453.4,47.5 453.4,40.4 610.2,40.4 610.2,47.5" fill="none" stroke="#000" stroke-width="1.3"/>
<polyline points="513.1,62.9 513.1,55.7 610.2,55.7 610.2,62.9" fill="none" stroke="#000" stroke-width="1.3"/>
<polyline points="558.1,78.9 558.1,71.8 610.2,71.8 610.2,78.9" fill="none" stroke="#000" stroke-width="1.3"/>
<polyline points="453.2,101.9 453.2,95.4 558.5,95.4 558.5,101.9" fill="none" stroke="#000" stroke-width="1.3"/>
<polyline points="506.0,118.5 506.0,112.1 558.5,112.1 558.5,118.5" fill="none" stroke="#000" stroke-width="1.3"/>
<polyline points="452.2,147.7 452.2,140.2 504.8,140.2 504.8,147.7" fill="none" stroke="#000" stroke-width="1.3"/>
<text x="524.1" y="34.7" font-size="7.9" text-anchor="middle" fill="#000" textLength="29.1" lengthAdjust="spacingAndGlyphs" stroke="#000" stroke-width="0.25">p&lt;0.001</text>
<text x="556.7" y="52.1" font-size="7.9" text-anchor="middle" fill="#000" textLength="8.8" lengthAdjust="spacingAndGlyphs" stroke="#000" stroke-width="0.25">ns</text>
<text x="583.8" y="65.0" font-size="7.9" text-anchor="middle" fill="#000" textLength="9" lengthAdjust="spacingAndGlyphs" stroke="#000" stroke-width="0.25">ns</text>
<text x="498.7" y="92.3" font-size="7.9" text-anchor="middle" fill="#000" textLength="25" lengthAdjust="spacingAndGlyphs" stroke="#000" stroke-width="0.25">p&lt;0.01</text>
<text x="531.6" y="108.0" font-size="7.9" text-anchor="middle" fill="#000" textLength="9.1" lengthAdjust="spacingAndGlyphs" stroke="#000" stroke-width="0.25">ns</text>
<text x="476.7" y="137.5" font-size="7.9" text-anchor="middle" fill="#000" textLength="25.5" lengthAdjust="spacingAndGlyphs" stroke="#000" stroke-width="0.25">p&lt;0.05</text>
</svg></body></html>
